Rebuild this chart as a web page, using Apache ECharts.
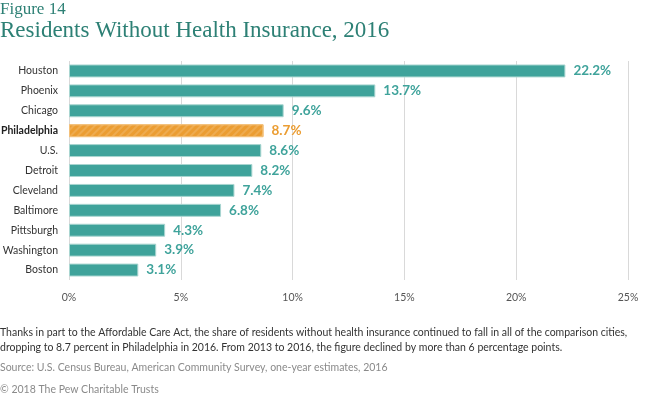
<!DOCTYPE html>
<html><head><meta charset="utf-8">
<script src="https://cdn.jsdelivr.net/npm/echarts@6/dist/echarts.min.js"></script>
<style>html,body{margin:0;padding:0;background:#fff}#c{width:650px;height:393px}</style>
</head><body><div id="c"></div>
<script>
const categories = ["Houston","Phoenix","Chicago","Philadelphia","U.S.","Detroit","Cleveland","Baltimore","Pittsburgh","Washington","Boston"];
const values = [22.2,13.7,9.6,8.7,8.6,8.2,7.4,6.8,4.3,3.9,3.1];
const highlight = "Philadelphia";
const xTicks = [0,5,10,15,20,25];

const teal = '#3fa39b', orange = '#eb9d32';
const chart = echarts.init(document.getElementById('c'), null, {renderer:'canvas'});
const font = 'Lato, "Open Sans", sans-serif';
const serif = '"Liberation Serif", serif';
chart.setOption({
  animation:false,
  title:[
    {text:'Figure 14', left:0, top:1, padding:0, textStyle:{fontFamily:serif, fontWeight:'normal', fontSize:17, color:'#2d8075'}},
    {text:'Residents Without Health Insurance, 2016', left:0, top:19, padding:0, textStyle:{fontFamily:serif, fontWeight:'normal', fontSize:23, color:'#2d8075'}},
    {text:'Thanks in part to the Affordable Care Act, the share of residents without health insurance continued to fall in all of the comparison cities,\ndropping to 8.7 percent in Philadelphia in 2016. From 2013 to 2016, the figure declined by more than 6 percentage points.', left:0, top:325, padding:0, textStyle:{fontFamily:font, fontWeight:'normal', fontSize:10.5, lineHeight:15, color:'#333'}},
    {text:'Source: U.S. Census Bureau, American Community Survey, one-year estimates, 2016', left:0, top:362, padding:0, textStyle:{fontFamily:font, fontWeight:'normal', fontSize:10.5, color:'#8a8a8a'}},
    {text:'© 2018 The Pew Charitable Trusts', left:0, top:384, padding:0, textStyle:{fontFamily:font, fontWeight:'normal', fontSize:10.5, color:'#8a8a8a'}}
  ],
  grid:{left:69, right:22, top:61, bottom:113, outerBoundsMode:'none'},
  xAxis:{type:'value', min:0, max:25, interval:5,
    axisLine:{show:false}, axisTick:{show:false},
    splitLine:{lineStyle:{color:'#d9d9d9', width:1}},
    axisLabel:{formatter: v=>v+'%', color:'#555', fontFamily:font, fontSize:10.5, margin:12}},
  yAxis:{type:'category', data:categories, inverse:true,
    axisLine:{show:false}, axisTick:{show:false},
    axisLabel:{margin:11, fontFamily:font, fontSize:10.5, color:'#333',
      formatter: v => v===highlight ? '{b|'+v+'}' : v,
      rich:{b:{fontWeight:'bold', color:'#222', fontFamily:font, fontSize:10.5}}}},
  series:[{type:'bar', barCategoryGap:'35%',
    data: categories.map((c,i)=>{
      const isH = c===highlight;
      return {value:values[i],
        itemStyle: isH ? {color:orange, borderColor:'#f3c07a', borderWidth:1,
          decal:{symbol:'rect', dashArrayX:[1,0], dashArrayY:[2,3], rotation:-Math.PI/4, color:'rgba(255,255,255,0.14)'}} : {color:teal, borderColor:'#a9d6d1', borderWidth:1},
        label:{color: isH ? orange : teal}};
    }),
    label:{show:true, position:'right', distance:8, formatter:p=>p.value.toFixed(1)+'%', fontFamily:font, fontWeight:'bold', fontSize:13.5}
  }]
});
</script></body></html>
